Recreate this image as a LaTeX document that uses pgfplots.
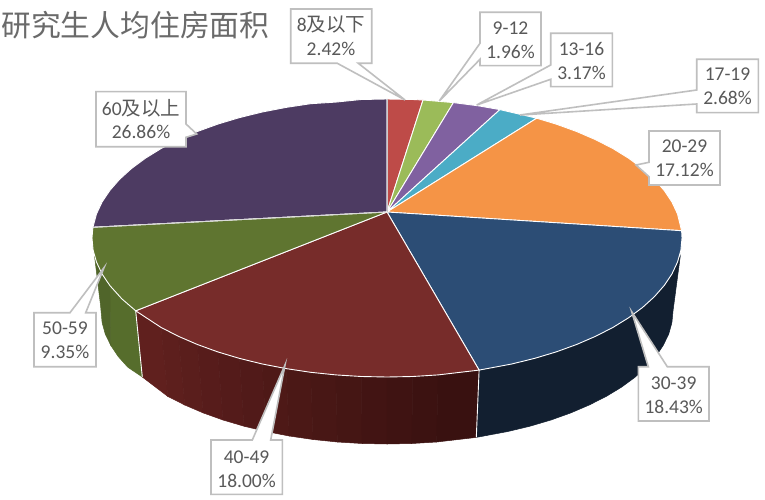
\documentclass[border=0pt]{standalone}
\usepackage{fontspec}
\usepackage{pgfplots}
\pgfplotsset{compat=1.18}
\setmainfont{Carlito}
\newfontfamily\cjk{Noto Sans CJK SC}
\definecolor{txt}{HTML}{595959}
\definecolor{ttl}{HTML}{6A6A6A}
\definecolor{bx}{HTML}{BFBFBF}
\definecolor{cA}{HTML}{BE4B48}
\definecolor{cB}{HTML}{9BBB59}
\definecolor{cC}{HTML}{8061A0}
\definecolor{cD}{HTML}{4BACC6}
\definecolor{cE}{HTML}{F59446}
\definecolor{cF}{HTML}{2C4D75}
\definecolor{cG}{HTML}{772C2A}
\definecolor{cH}{HTML}{5F7530}
\definecolor{cI}{HTML}{4D3B62}
\definecolor{sF}{HTML}{121F30}
\definecolor{sGa}{HTML}{391110}
\definecolor{sGb}{HTML}{63211F}
\definecolor{sH1}{HTML}{566D2C}
\definecolor{sH2}{HTML}{50652A}
\pgfplotsset{
  wedge/.style={fill=#1,draw=white,line width=0.9pt,line join=round},
  band/.style={fill=#1,draw=#1,line width=0.5pt},
  call/.style={fill=white,draw=bx,line width=1.6pt,line join=miter}
}
\newcommand{\lab}[4]{%
  \node[font=\fontsize{19.5}{23}\selectfont,text=txt,inner sep=0pt] at (axis cs:#1,#2) {#3};
  \node[font=\fontsize{19.5}{23}\selectfont,text=txt,inner sep=0pt] at (axis cs:#1,#2+24) {#4};
}
\begin{document}
\begin{tikzpicture}
\begin{axis}[width=765pt,height=500pt,scale only axis,xmin=0,xmax=765,ymin=0,ymax=500,y dir=reverse,hide axis,clip=false]
\addplot[fill=white,draw=none] coordinates {(0,0)(765,0)(765,500)(0,500)} --cycle;

% side: 30-39
\addplot[band=sF] coordinates {
(479.1,370.1)(511.7,364)(534.5,358.4)(556.2,351.9)(576.6,344.5)(595.6,336.3)(613,327.4)(628.7,317.7)(642.5,307.5)(654.4,296.7)(664.2,285.5)(671.9,274)(677.5,262.1)(680.3,256)
(673,311)(671.9,322.6)(668.7,334.1)(663.2,345.4)(655.8,356.5)(646.2,367.2)(634.7,377.5)(621.3,387.3)(606.1,396.5)(589.2,405)(570.8,412.9)(551,420)(530,426.2)(507.9,431.5)(476.3,437.4)} --cycle;
% side: 40-49, darkening to the right; painted from the left so that each band overlaps its neighbour cleanly
\addplot[band=sGa!7!sGb] coordinates {(161,327.4)(135.7,310.8)(142.3,377)(167.9,396.5)} --cycle;
\addplot[band=sGa!14!sGb] coordinates {(178.4,336.3)(161,327.4)(167.9,396.5)(184.8,405)} --cycle;
\addplot[band=sGa!21!sGb] coordinates {(197.4,344.5)(178.4,336.3)(184.8,405)(203.2,412.9)} --cycle;
\addplot[band=sGa!29!sGb] coordinates {(217.8,351.9)(197.4,344.5)(203.2,412.9)(223,420)} --cycle;
\addplot[band=sGa!36!sGb] coordinates {(239.5,358.4)(217.8,351.9)(223,420)(244,426.2)} --cycle;
\addplot[band=sGa!43!sGb] coordinates {(262.3,364)(239.5,358.4)(244,426.2)(266.1,431.5)} --cycle;
\addplot[band=sGa!50!sGb] coordinates {(286.1,368.6)(262.3,364)(266.1,431.5)(289.2,436)} --cycle;
\addplot[band=sGa!57!sGb] coordinates {(310.7,372.3)(286.1,368.6)(289.2,436)(313,439.5)} --cycle;
\addplot[band=sGa!64!sGb] coordinates {(335.8,374.9)(310.7,372.3)(313,439.5)(337.4,442)} --cycle;
\addplot[band=sGa!71!sGb] coordinates {(361.3,376.5)(335.8,374.9)(337.4,442)(362.1,443.5)} --cycle;
\addplot[band=sGa!79!sGb] coordinates {(387,377)(361.3,376.5)(362.1,443.5)(387,444)} --cycle;
\addplot[band=sGa!86!sGb] coordinates {(412.7,376.5)(387,377)(387,444)(411.9,443.5)} --cycle;
\addplot[band=sGa!93!sGb] coordinates {(438.2,374.9)(412.7,376.5)(411.9,443.5)(436.6,442)} --cycle;
\addplot[band=sGa] coordinates {(479.1,370.1)(438.2,374.9)(436.6,442)(476.3,437.4)} --cycle;
% side: 50-59
\addplot[band=sH1] coordinates {(135.7,310.8)(121.9,298.9)(109.8,285.5)(110.8,345.4)(118.2,356.5)(127.8,367.2)(142.3,377)} --cycle;
\addplot[band=sH2] coordinates {(109.8,285.5)(102.1,274)(96.5,262.1)(94.5,256)(100.5,305)(102.1,322.6)(105.3,334.1)(110.8,345.4)} --cycle;
% white seams on the side
\addplot[draw=white,line width=0.9pt] coordinates {(479.1,370.1)(476.3,437.4)};
\addplot[draw=white,line width=0.9pt] coordinates {(135.7,310.8)(142.3,377)};

% top: 60 and over
\addplot[wedge=cI] coordinates {(387,212)(92.9,227.3)(96.5,213.9)(102.1,202)(109.8,190.5)(119.6,179.3)(131.5,168.5)(145.3,158.3)(161,148.6)(178.4,139.7)(197.4,131.5)(217.8,124.1)(239.5,117.6)(262.3,112)(286.1,107.4)(310.7,103.7)(335.8,102.1)(361.3,99.5)(387,99)} --cycle;
% 8 and under
\addplot[wedge=cA] coordinates {(387,212)(387,99)(412.7,99.5)(423,100)} --cycle;
% 9-12
\addplot[wedge=cB] coordinates {(387,212)(423,100)(453.4,102.6)} --cycle;
% 13-16
\addplot[wedge=cC] coordinates {(387,212)(453.4,102.6)(478.2,105.8)(499.9,109.6)} --cycle;
% 17-19
\addplot[wedge=cD] coordinates {(387,212)(499.9,109.6)(536.7,118.2)} --cycle;
% 20-29
\addplot[wedge=cE] coordinates {(387,212)(536.7,118.2)(556.2,124.1)(576.6,131.5)(595.6,139.7)(613,148.6)(628.7,158.3)(642.5,168.5)(654.4,179.3)(664.2,190.5)(671.9,202)(677.5,213.9)(681.6,230.7)} --cycle;
% 30-39
\addplot[wedge=cF] coordinates {(387,212)(681.6,230.7)(682,238)(680.9,250.1)(677.5,262.1)(671.9,274)(664.2,285.5)(654.4,296.7)(642.5,307.5)(628.7,317.7)(613,327.4)(595.6,336.3)(576.6,344.5)(556.2,351.9)(534.5,358.4)(511.7,364)(479.1,370.1)} --cycle;
% 40-49
\addplot[wedge=cG] coordinates {(387,212)(479.1,370.1)(438.2,374.9)(412.7,376.5)(387,377)(361.3,376.5)(335.8,374.9)(310.7,372.3)(286.1,368.6)(262.3,364)(239.5,358.4)(217.8,351.9)(197.4,344.5)(178.4,336.3)(161,327.4)(135.7,310.8)} --cycle;
% 50-59
\addplot[wedge=cH] coordinates {(387,212)(135.7,310.8)(121.9,298.9)(109.8,285.5)(102.1,274)(96.5,262.1)(93.1,250.1)(92,238)(92.9,227.3)} --cycle;
% greyish seams of the 60-and-over slice
\addplot[draw=black!20,line width=0.9pt] coordinates {(387,212)(387,99)};
\addplot[draw=black!15,line width=0.9pt] coordinates {(387,212)(92.9,227.3)};

% callouts
\addplot[call] coordinates {(290.7,9)(371.7,9)(371.7,63.3)(358.3,63.3)(405,100)(337.3,63.3)(290.7,63.3)} --cycle;
\addplot[call] coordinates {(480,12.3)(541,12.3)(541,65.7)(480,65.7)(480,59.3)(439.3,101)(480,43.3)} --cycle;
\addplot[call] coordinates {(550.7,33.3)(612.3,33.3)(612.3,86.7)(550.7,86.7)(550.7,79.3)(476.7,105)(550.7,65)} --cycle;
\addplot[call] coordinates {(696.7,59.3)(758.3,59.3)(758.3,112.7)(696.7,112.7)(696.7,104)(520,115)(696.7,90)} --cycle;
\addplot[call] coordinates {(649,131)(720,131)(720,185)(649,185)(649,176.7)(636,165)(649,162.3)} --cycle;
\addplot[call] coordinates {(638.3,366.7)(648.3,366.7)(631.7,311.7)(667.3,366.7)(709,366.7)(709,421)(638.3,421)} --cycle;
\addplot[call] coordinates {(211,440)(252.3,440)(285,365)(270.7,440)(282.3,440)(282.3,494.3)(211,494.3)} --cycle;
\addplot[call] coordinates {(34,312.7)(70,312.7)(104,267.7)(85.7,312.7)(96,312.7)(96,366.7)(34,366.7)} --cycle;
\addplot[call] coordinates {(96,91.7)(186,91.7)(186,124)(196.7,134)(186,137.3)(186,146.7)(96,146.7)} --cycle;

\lab{331}{25}{8{\cjk 及以下}}{2.42\%}
\lab{510.5}{28}{9-12}{1.96\%}
\lab{581.5}{49.3}{13-16}{3.17\%}
\lab{727.5}{74}{17-19}{2.68\%}
\lab{684.5}{146}{20-29}{17.12\%}
\lab{673.7}{383.3}{30-39}{18.43\%}
\lab{246.6}{457.3}{40-49}{18.00\%}
\lab{65}{328.3}{50-59}{9.35\%}
\lab{141}{108.3}{60{\cjk 及以上}}{26.86\%}
\node[anchor=west,inner sep=0pt,text=ttl,font=\cjk\fontsize{29.8}{32}\selectfont] at (axis cs:1,25) {研究生人均住房面积};
\end{axis}
\end{tikzpicture}
\end{document}
